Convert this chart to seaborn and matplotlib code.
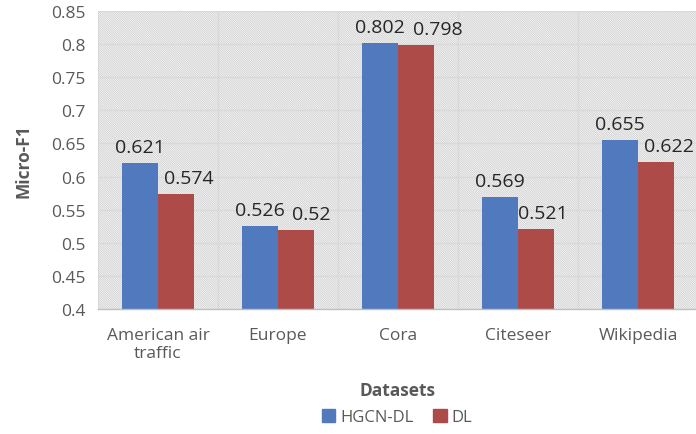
import matplotlib
matplotlib.use("Agg")
import matplotlib.pyplot as plt
from matplotlib.patches import Rectangle, Patch
import seaborn as sns
import pandas as pd

datasets = ["American air\ntraffic", "Europe", "Cora", "Citeseer", "Wikipedia"]
hgcn_dl = [0.621, 0.526, 0.802, 0.569, 0.655]
dl = [0.574, 0.52, 0.798, 0.521, 0.622]
methods = ["HGCN-DL", "DL"]
yticks = [0.4, 0.45, 0.5, 0.55, 0.6, 0.65, 0.7, 0.75, 0.8, 0.85]

colors = ["#5079BE", "#AC4B48"]
# horizontal nudge (px) of the DL labels so they clear the neighbouring label
dl_label_dx = [13, 15, 22, 7, 13]

sns.set_theme(style="white")
plt.rcParams["font.family"] = ["Open Sans", "DejaVu Sans"]
plt.rcParams["hatch.linewidth"] = 0.45
plt.rcParams["hatch.color"] = "#c4c4c4"

df = pd.DataFrame({
    "Datasets": datasets * 2,
    "Method": [methods[0]] * len(datasets) + [methods[1]] * len(datasets),
    "Micro-F1": hgcn_dl + dl,
})

fig = plt.figure(figsize=(6.96, 4.35), dpi=100)
ax = fig.add_axes([98 / 696, 1 - 310 / 435, 600 / 696, 298 / 435])
ax.set_facecolor("white")

# hatched plot background
bg = Rectangle((0, 0), 1, 1, transform=ax.transAxes, facecolor="white",
               edgecolor="#c4c4c4", hatch="\\" * 18, linewidth=0, zorder=0)
ax.add_patch(bg)

sns.barplot(data=df, x="Datasets", y="Micro-F1", hue="Method",
            palette=colors, width=0.6, gap=0, saturation=1, linewidth=0,
            legend=False, ax=ax, zorder=3)

ax.set_ylim(0.4, 0.85)
ax.set_xlim(-0.5, len(datasets) - 0.5)
ax.set_yticks(yticks)
ax.set_yticklabels([f"{v:g}" for v in yticks])

# grid: horizontal at ticks, vertical at category boundaries
for v in yticks[1:]:
    ax.axhline(v, color="#d9d9d9", lw=1.0, zorder=1)
for b in range(len(datasets) + 1):
    ax.axvline(b - 0.5, color="#d9d9d9", lw=1.0, zorder=1)

for s in ["top", "right", "left"]:
    ax.spines[s].set_visible(False)
ax.spines["bottom"].set_color("#bfbfbf")
ax.spines["bottom"].set_linewidth(1.0)
ax.spines["bottom"].set_zorder(4)

ax.tick_params(axis="both", length=0, labelsize=12.5, labelcolor="#595959")
ax.tick_params(axis="y", pad=9)
ax.tick_params(axis="x", pad=13)

ax.set_xlabel("Datasets", fontsize=12.5, fontweight="bold", color="#595959", labelpad=14)
ax.set_ylabel("Micro-F1", fontsize=12.5, fontweight="bold", color="#595959", labelpad=13)

# value labels
for i, cont in enumerate(ax.containers):
    for j, bar in enumerate(cont):
        val = hgcn_dl[j] if i == 0 else dl[j]
        dx = 0 if i == 0 else dl_label_dx[j]
        ax.annotate(f"{val:g}", (bar.get_x() + bar.get_width() / 2, bar.get_height()),
                    xytext=(dx * 0.72, 5), textcoords="offset points",
                    ha="center", va="bottom", fontsize=14, color="#262626",
                    annotation_clip=False, zorder=5)

handles = [Patch(facecolor=c, edgecolor=c) for c in colors]
fig.legend(handles, methods, loc="center", bbox_to_anchor=(397 / 696, 1 - 418 / 435),
           ncol=2, frameon=False, fontsize=12, handlelength=0.8, handleheight=0.8,
           handletextpad=0.3, columnspacing=1.2, labelcolor="#595959")

fig.savefig("out.png", dpi=100)
